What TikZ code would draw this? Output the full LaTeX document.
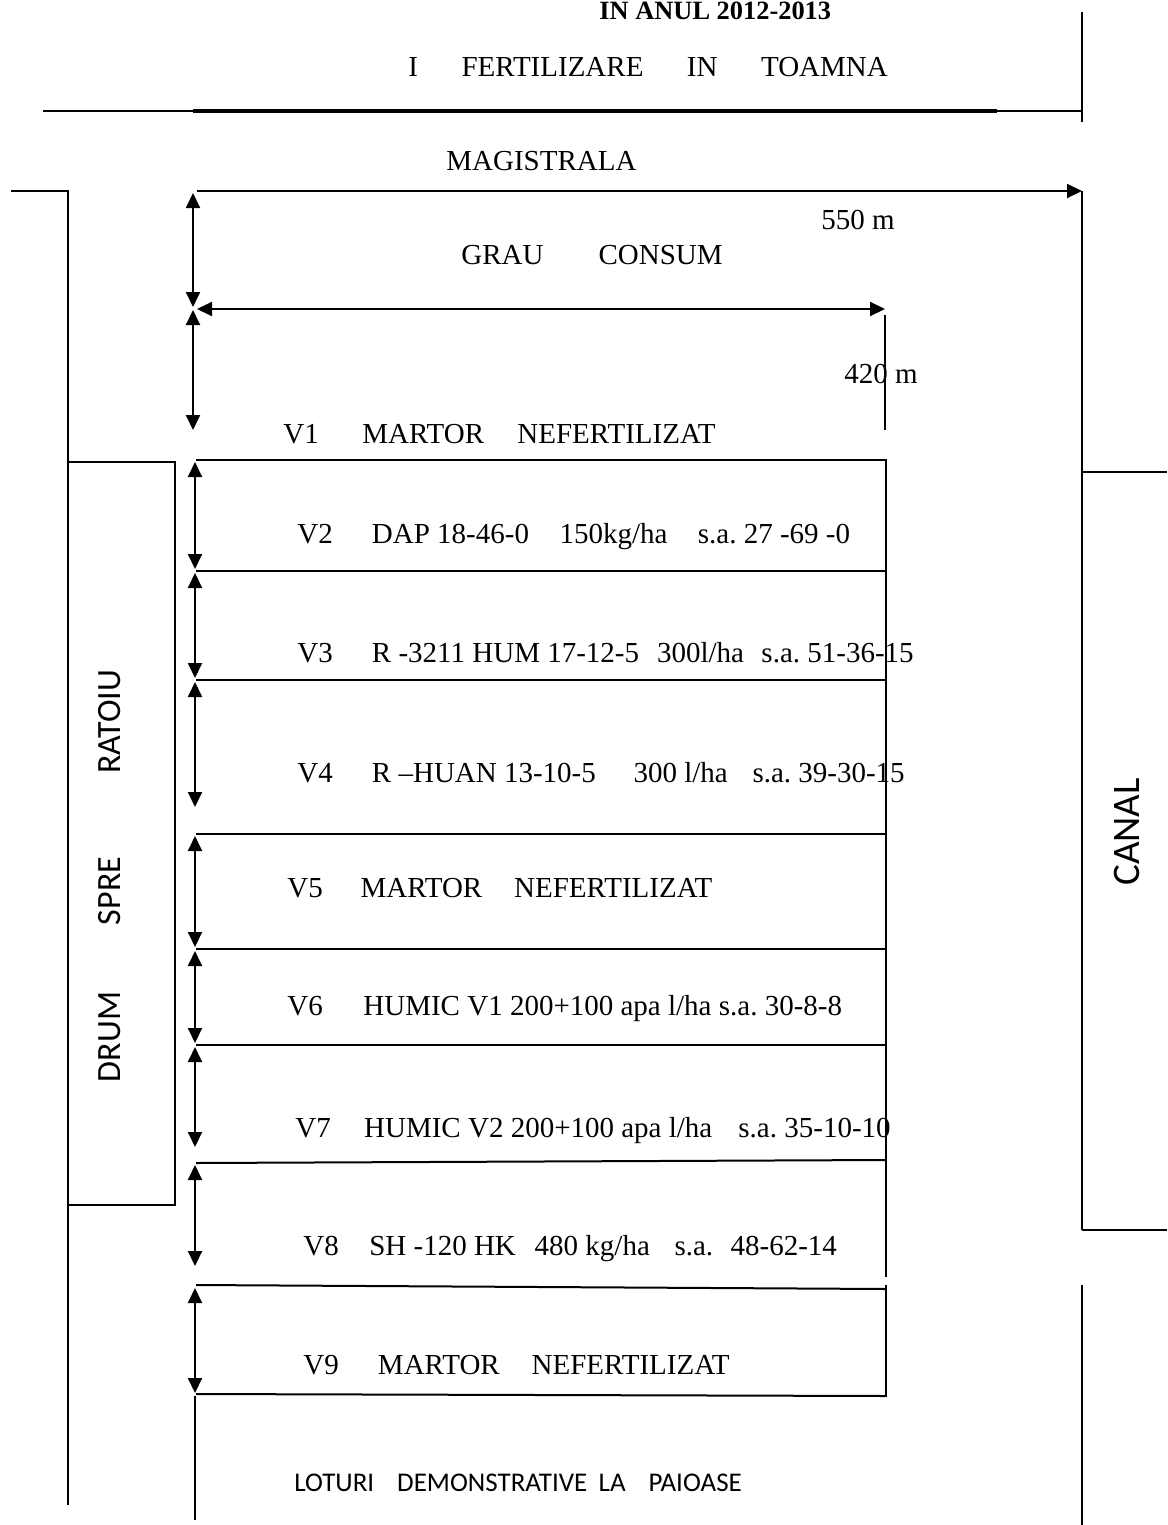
\documentclass[tikz,border=0pt]{standalone}
\usepackage{fontspec}
\setmainfont{Liberation Serif}
\newfontfamily\calfont{Carlito}
\usetikzlibrary{arrows.meta}
\frenchspacing

\begin{document}
\begin{tikzpicture}[x=0.5pt, y=-0.5pt,
  ln/.style={line width=1pt},
  tip/.style={-{Triangle[length=7.5pt,width=7pt]}},
  dim/.style={line width=1pt, {Triangle[length=7.5pt,width=7pt]}-{Triangle[length=7.5pt,width=7pt]}},
  lbl/.style={anchor=base west, inner sep=0pt, font=\fontsize{14.5}{17}\selectfont},
  road/.style={inner sep=0pt, rotate=90, font=\calfont\fontsize{17}{20}\selectfont},
]
  \useasboundingbox (0,0) rectangle (1167,1525);

  % titles
  \node[lbl, font=\bfseries\fontsize{13.2}{16}\selectfont] (year) at (599,20) {IN ANUL 2012-2013};
  \node[lbl] (fert) at (408,76) {I\hspace{1.5em}FERTILIZARE\hspace{1.5em}IN\hspace{1.5em}TOAMNA};
  \draw[ln] (43,111) -- (1082,111);
  \draw[line width=1.6pt] (193,111) -- (997,111);
  \draw[ln] (1082,12) -- (1082,122);

  % magistrala and outer limits
  \node[lbl] (mag) at (446,170) {MAGISTRALA};
  \coordinate (mag0) at (197,191);
  \coordinate (mag1) at (1082,191);
  \draw[ln, tip] (mag0) -- (mag1);
  \draw[ln] (11,191) -- (68,191) -- (68,1505);
  \draw[ln] (1082,191) -- (1082,1230);
  \draw[ln] (1082,472) -- (1167,472);
  \draw[ln] (1082,1230) -- (1167,1230);
  \draw[ln] (1082,1285) -- (1082,1525);

  % road and canal
  \draw[ln] (68,462) rectangle (175,1205);
  \node[road] (ratoiu) at (110,722) {RATOIU};
  \node[road] (spre) at (110,891) {SPRE};
  \node[road] (drum) at (110,1037) {DRUM};
  \node[road, font=\calfont\fontsize{19.5}{22}\selectfont] (canal) at (1127,832) {CANAL};

  % grau consum block
  \node[lbl] (len550) at (821,229) {550 m};
  \node[lbl] (crop) at (461,264) {GRAU\hspace{1.9em}CONSUM};
  \node[lbl] (len420) at (844,383) {420 m};
  \coordinate (g0) at (193,193);
  \coordinate (g1) at (193,307);
  \coordinate (g2) at (193,310);
  \coordinate (g3) at (193,430);
  \coordinate (w0) at (197,309);
  \coordinate (w1) at (885,309);
  \draw[dim] (g0) -- (g1);
  \draw[dim] (g2) -- (g3);
  \draw[dim] (w0) -- (w1);
  \draw[ln] (885,315) -- (885,430);

  % plots
  \draw[ln] (196,460) -- (886,460) -- (886,1277);
  \draw[ln] (886,1285) -- (886,1397);
  \draw[ln] (196,571) -- (886,571);
  \draw[ln] (196,680) -- (886,680);
  \draw[ln] (196,834) -- (886,834);
  \draw[ln] (196,949) -- (886,949);
  \draw[ln] (196,1045) -- (886,1045);
  \draw[ln] (196,1163) -- (886,1160);
  \draw[ln] (196,1285) -- (886,1289);
  \draw[ln] (196,1394) -- (886,1396);
  \draw[ln] (195,1396) -- (195,1520);

  \foreach \r/\t/\b in {2/462/569, 3/573/678, 4/682/807, 5/836/947,
                        6/951/1043, 7/1047/1147, 8/1165/1266, 9/1288/1393} {
    \coordinate (v\r top) at (195,\t);
    \coordinate (v\r bot) at (195,\b);
    \draw[dim] (v\r top) -- (v\r bot);
  }

  \node[lbl] (v1) at (283,443) {V1\hspace{1.5em}MARTOR\hspace{1.15em}NEFERTILIZAT};
  \node[lbl] (v2) at (297,543) {V2\hspace{1.35em}DAP 18-46-0\hspace{1.05em}150kg/ha\hspace{1.05em}s.a. 27 -69 -0};
  \node[lbl] (v3) at (297,662) {V3\hspace{1.35em}R -3211 HUM 17-12-5\hspace{0.62em}300l/ha\hspace{0.6em}s.a. 51-36-15};
  \node[lbl] (v4) at (297,782) {V4\hspace{1.35em}R --HUAN 13-10-5\hspace{1.3em}300 l/ha\hspace{0.85em}s.a. 39-30-15};
  \node[lbl] (v5) at (287,897) {V5\hspace{1.3em}MARTOR\hspace{1.1em}NEFERTILIZAT};
  \node[lbl] (v6) at (287,1015) {V6\hspace{1.4em}HUMIC V1 200+100 apa l/ha s.a. 30-8-8};
  \node[lbl] (v7) at (295,1137) {V7\hspace{1.15em}HUMIC V2 200+100 apa l/ha\hspace{0.9em}s.a. 35-10-10};
  \node[lbl] (v8) at (303,1255) {V8\hspace{1.05em}SH -120 HK\hspace{0.65em}480 kg/ha\hspace{0.85em}s.a.\hspace{0.6em}48-62-14};
  \node[lbl] (v9) at (303,1374) {V9\hspace{1.35em}MARTOR\hspace{1.1em}NEFERTILIZAT};

  \node[anchor=west, inner sep=0pt, font=\calfont\fontsize{13.5}{16}\selectfont] (lots) at (294,1483)
    {LOTURI\hspace{0.85em}DEMONSTRATIVE\hspace{0.42em}LA\hspace{0.85em}PAIOASE};
\end{tikzpicture}
\end{document}
